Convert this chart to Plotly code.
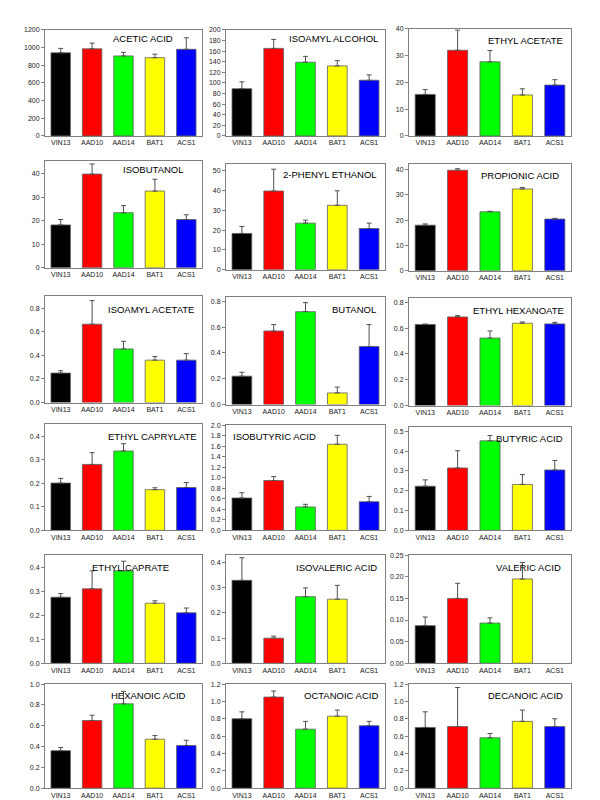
import plotly.graph_objects as go

strains = ["VIN13", "AAD10", "AAD14", "BAT1", "ACS1"]
bar_colors = ["#000000", "#FF0000", "#00FF00", "#FFFF00", "#0000FF"]

acetic_acid = [940, 985, 905, 885, 980]
acetic_acid_err = [50, 65, 40, 40, 130]
isoamyl_alcohol = [89, 165, 139, 132, 105]
isoamyl_alcohol_err = [13, 17, 11, 10, 10]
ethyl_acetate = [15.5, 32.0, 27.7, 15.3, 19.0]
ethyl_acetate_err = [1.8, 7.5, 4.2, 2.3, 2.0]
isobutanol = [18.2, 39.8, 23.4, 32.6, 20.5]
isobutanol_err = [2.3, 4.3, 3.0, 5.0, 2.0]
phenyl_ethanol = [18.3, 39.7, 23.5, 32.5, 20.8]
phenyl_ethanol_err = [3.5, 11.0, 1.5, 7.3, 2.7]
propionic_acid = [18.0, 39.7, 23.3, 32.3, 20.4]
propionic_acid_err = [0.5, 0.6, 0.2, 0.6, 0.3]
isoamyl_acetate = [0.25, 0.665, 0.455, 0.36, 0.36]
isoamyl_acetate_err = [0.02, 0.20, 0.065, 0.03, 0.055]
butanol = [0.22, 0.57, 0.72, 0.09, 0.45]
butanol_err = [0.03, 0.05, 0.07, 0.045, 0.17]
ethyl_hexanoate = [0.628, 0.687, 0.523, 0.638, 0.633]
ethyl_hexanoate_err = [0.004, 0.01, 0.055, 0.01, 0.012]
ethyl_caprylate = [0.201, 0.28, 0.337, 0.173, 0.182]
ethyl_caprylate_err = [0.02, 0.05, 0.031, 0.008, 0.021]
isobutyric_acid = [0.617, 0.95, 0.447, 1.64, 0.547]
isobutyric_acid_err = [0.10, 0.075, 0.05, 0.17, 0.10]
butyric_acid = [0.223, 0.315, 0.452, 0.232, 0.305]
butyric_acid_err = [0.032, 0.087, 0.027, 0.05, 0.048]
ethyl_caprate = [0.275, 0.31, 0.385, 0.25, 0.21]
ethyl_caprate_err = [0.015, 0.075, 0.04, 0.01, 0.02]
isovaleric_acid = [0.33, 0.10, 0.265, 0.255, None]
isovaleric_acid_err = [0.09, 0.008, 0.035, 0.055, 0]
valeric_acid = [0.087, 0.15, 0.093, 0.195, None]
valeric_acid_err = [0.02, 0.035, 0.012, 0.038, 0]
hexanoic_acid = [0.36, 0.65, 0.81, 0.47, 0.41]
hexanoic_acid_err = [0.03, 0.05, 0.12, 0.035, 0.05]
octanoic_acid = [0.80, 1.05, 0.68, 0.83, 0.72]
octanoic_acid_err = [0.08, 0.07, 0.09, 0.07, 0.05]
decanoic_acid = [0.70, 0.71, 0.58, 0.77, 0.71]
decanoic_acid_err = [0.18, 0.45, 0.05, 0.13, 0.09]

titles = ["ACETIC ACID", "ISOAMYL ALCOHOL", "ETHYL ACETATE",
          "ISOBUTANOL", "2-PHENYL ETHANOL", "PROPIONIC ACID",
          "ISOAMYL ACETATE", "BUTANOL", "ETHYL HEXANOATE",
          "ETHYL CAPRYLATE", "ISOBUTYRIC ACID", "BUTYRIC ACID",
          "ETHYL CAPRATE", "ISOVALERIC ACID", "VALERIC ACID",
          "HEXANOIC ACID", "OCTANOIC ACID", "DECANOIC ACID"]
values = [acetic_acid, isoamyl_alcohol, ethyl_acetate, isobutanol, phenyl_ethanol,
          propionic_acid, isoamyl_acetate, butanol, ethyl_hexanoate, ethyl_caprylate,
          isobutyric_acid, butyric_acid, ethyl_caprate, isovaleric_acid, valeric_acid,
          hexanoic_acid, octanoic_acid, decanoic_acid]
errors = [acetic_acid_err, isoamyl_alcohol_err, ethyl_acetate_err, isobutanol_err,
          phenyl_ethanol_err, propionic_acid_err, isoamyl_acetate_err, butanol_err,
          ethyl_hexanoate_err, ethyl_caprylate_err, isobutyric_acid_err, butyric_acid_err,
          ethyl_caprate_err, isovaleric_acid_err, valeric_acid_err, hexanoic_acid_err,
          octanoic_acid_err, decanoic_acid_err]
y_max = [1200, 200, 40, 45.5, 53.5, 42.3, 0.9, 0.83, 0.83, 0.45, 2.0, 0.52,
         0.45, 0.43, 0.25, 1.0, 1.2, 1.2]
y_dtick = [200, 20, 10, 10, 10, 10, 0.2, 0.2, 0.2, 0.1, 0.2, 0.1,
           0.1, 0.1, 0.05, 0.2, 0.2, 0.2]
y_fmt = ["d", "d", "d", "d", "d", "d", ".1f", ".1f", ".1f", ".1f", ".1f", ".1f",
         ".1f", ".1f", ".2f", ".1f", ".1f", ".1f"]

W, H = 600, 800
col_px = [(37, 194), (218, 377), (401, 563)]
row_px = [[(18, 125), (18, 125), (17, 125)],
          [(150, 258), (153, 260), (153, 261)],
          [(287, 394), (288, 396), (289, 397)],
          [(416, 523), (417, 523), (419, 523)],
          [(548, 657), (548, 657), (548, 657)],
          [(678, 783), (678, 783), (678, 783)]]
title_pos = [(0.83, 0.92, "right"), (0.97, 0.92, "right"), (0.96, 0.89, "right"),
             (0.90, 0.92, "right"), (0.96, 0.90, "right"), (0.94, 0.89, "right"),
             (0.96, 0.88, "right"), (0.955, 0.89, "right"), (0.97, 0.89, "right"),
             (0.98, 0.89, "right"), (0.03, 0.89, "left"), (0.96, 0.89, "right"),
             (0.80, 0.89, "right"), (0.96, 0.89, "right"), (0.95, 0.89, "right"),
             (0.91, 0.89, "right"), (0.97, 0.89, "right"), (0.96, 0.89, "right")]

font_family = "Liberation Sans, Arial, sans-serif"
fig = go.Figure()
layout = {}
for i in range(18):
    r, c = divmod(i, 3)
    n = i + 1
    xn = "x" if n == 1 else f"x{n}"
    yn = "y" if n == 1 else f"y{n}"
    fig.add_trace(go.Bar(
        x=strains, y=values[i], xaxis=xn, yaxis=yn, width=0.62,
        marker=dict(color=bar_colors, line=dict(color="#606060", width=0.8)),
        error_y=dict(type="data", symmetric=False, array=errors[i],
                     arrayminus=[0] * 5, color="#505050", thickness=1, width=2.5),
        showlegend=False))
    x0, x1 = col_px[c]
    t, b = row_px[r][c]
    layout["xaxis" if n == 1 else f"xaxis{n}"] = dict(
        domain=[x0 / W, x1 / W], anchor=yn, showline=True, mirror=True,
        linecolor="#808080", linewidth=1, ticks="", showgrid=False,
        tickfont=dict(size=7, color="#222", family=font_family))
    layout["yaxis" if n == 1 else f"yaxis{n}"] = dict(
        domain=[1 - b / H, 1 - t / H], anchor=xn, range=[0, y_max[i]],
        dtick=y_dtick[i], tick0=0, tickformat=y_fmt[i], showline=True, mirror=True,
        linecolor="#808080", linewidth=1, ticks="outside", ticklen=3,
        tickcolor="#808080", showgrid=False, zeroline=False,
        tickfont=dict(size=7, color="#222", family=font_family))
    tx, ty, anc = title_pos[i]
    fig.add_annotation(text=titles[i], xref=f"{xn} domain", yref=f"{yn} domain",
                       x=tx, y=ty, xanchor=anc, yanchor="middle", showarrow=False,
                       font=dict(size=9.5, color="#000", family=font_family))

fig.update_layout(**layout)
fig.update_layout(width=W, height=H, margin=dict(l=0, r=0, t=0, b=0),
                  plot_bgcolor="white", paper_bgcolor="white",
                  bargap=0.38, font=dict(family=font_family))
fig.write_html("out.html")
